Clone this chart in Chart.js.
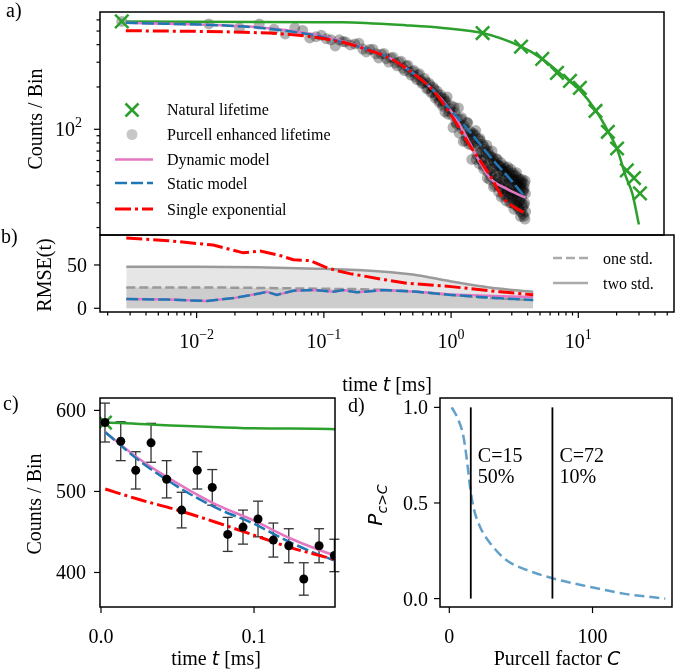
<!DOCTYPE html>
<html>
<head>
<meta charset="UTF-8">
<title>Lifetime fits</title>
<script src="https://cdn.jsdelivr.net/npm/chart.js"></script>
<style>
  body { margin: 0; background: #fff; }
  #fig { position: relative; width: 676px; height: 670px; }
  #fig canvas { position: absolute; left: 0; top: 0; }
</style>
</head>
<body>
<div id="fig">
  <canvas id="pa" width="676" height="670"></canvas>
  <canvas id="pb" width="676" height="670"></canvas>
  <canvas id="pc" width="676" height="670"></canvas>
  <canvas id="pd" width="676" height="670"></canvas>
</div>
<script>
const W = 676, H = 670;
const SERIF = '"Liberation Serif", "Times New Roman", serif';
const SANS = '"DejaVu Sans", sans-serif';
const F20 = '20px ' + SERIF, F16 = '16px ' + SERIF, F14 = '14px ' + SERIF;
const GREEN = '#2ca02c', PINK = '#e377c2', BLUE = '#1f77b4', RED = '#ff0000';
const DOTS = 'rgba(0,0,0,0.3)';
const DOTS_LEGEND = 'rgba(0,0,0,0.22)';

// ---- natural lifetime (markers + fit) ----
const natT = [0.0026, 2.0, 4.06, 6.0, 7.87, 10, 12, 16, 20.1, 23.8, 28.5, 32.5, 36.3];
const natV = [585, 484, 387, 317, 252, 221, 197, 135, 96, 73, 51, 45, 35];
const natFitT = [0.0028, 0.1, 0.15, 0.5, 1, 2, 4, 6, 8, 10, 12, 16, 20, 24, 28, 31.5, 35.6];
const natFitV = [585, 578, 577, 548, 524, 484, 390, 317, 258, 219, 190, 137, 98, 71, 46, 35, 21];

// ---- model curves ----
const dynT = [0.0028, 0.025, 0.05, 0.075, 0.1, 0.125, 0.1525, 0.2, 0.374, 0.605, 0.82, 1.11, 1.25, 1.55, 1.91, 2.29, 3.18, 4.42];
const dynV = [573, 540, 510, 484, 464, 441, 421, 392, 317, 237, 187, 136, 116, 82, 58, 45, 37.4, 32.6];
const statT = [0.0028, 0.025, 0.05, 0.075, 0.1, 0.125, 0.1525, 0.2, 0.374, 0.605, 0.82, 1.11, 1.25, 1.79, 2.4, 3.3, 4.42];
const statV = [573, 538, 506, 480, 460, 436, 415, 390, 317, 237, 187, 136, 122, 84, 61, 44.5, 32.6];
const expT = [0.0028, 0.025, 0.05, 0.075, 0.1, 0.125, 0.1525, 0.2, 0.374, 0.605, 0.82, 1.11, 1.59, 2.29, 2.91, 4.42];
const expV = [503, 490, 477, 462, 446, 430, 416, 388, 315, 236, 185, 128, 76, 47, 32.6, 25];

// ---- Purcell enhanced counts (first bins also shown in panel c) ----
const cT = [0.0026, 0.0129, 0.0227, 0.0327, 0.0429, 0.0527, 0.0629, 0.0727, 0.0828, 0.0928, 0.1026, 0.1126, 0.1227, 0.1325, 0.1425, 0.1525];
const cV = [585, 562, 526, 560, 515, 477, 526, 505, 447, 456, 466, 440, 433, 392, 433, 421];
const cErr = [24, 24, 23, 24, 23, 22, 23, 22, 21, 21, 22, 21, 21, 20, 21, 20];
const midT = [0.16, 0.19, 0.22, 0.25, 0.28, 0.31, 0.34, 0.37, 0.40, 0.43, 0.46, 0.49, 0.52, 0.55, 0.58,
  0.61, 0.64, 0.67, 0.70, 0.73, 0.76, 0.79, 0.82, 0.85, 0.88, 0.91, 0.94, 0.97, 1.00];
const midV = [418, 405, 372, 370, 345, 342, 318, 322, 296, 300, 272, 282, 255, 258, 236,
  243, 222, 214, 218, 196, 205, 184, 193, 172, 176, 160, 168, 150, 155];
const mid2T = [0.175, 0.205, 0.235, 0.265, 0.295, 0.325, 0.355, 0.385, 0.415, 0.445, 0.475, 0.505, 0.535, 0.565,
  0.595, 0.625, 0.655, 0.685, 0.715, 0.745, 0.775, 0.805, 0.835, 0.865, 0.895, 0.925, 0.955, 0.985];
const mid2V = [398, 409, 355, 371, 322, 346, 301, 325, 283, 305, 262, 285, 243, 262,
  226, 248, 212, 230, 194, 213, 182, 199, 167, 187, 156, 176, 146, 165];
const tailT = [1.02, 1.06, 1.10, 1.14, 1.18, 1.22, 1.26, 1.30, 1.34, 1.38, 1.42, 1.46, 1.50, 1.54, 1.58,
  1.62, 1.66, 1.70, 1.74, 1.78, 1.82, 1.86, 1.90, 1.94, 1.98, 2.02, 2.06, 2.10, 2.14, 2.18,
  2.22, 2.26, 2.30, 2.34, 2.38, 2.42, 2.46, 2.50, 2.54, 2.58, 2.62, 2.66, 2.70, 2.74, 2.78,
  2.82, 2.86, 2.90, 2.94, 2.98, 3.02, 3.06, 3.10, 3.14, 3.18, 3.22, 3.26, 3.30, 3.34, 3.38,
  3.42, 3.46, 3.50, 3.54, 3.58, 3.62, 3.66, 3.70, 3.74, 3.78, 3.82, 3.86, 3.90, 3.94, 3.98,
  4.02, 4.06, 4.10, 4.14, 4.18, 4.22, 4.26, 4.30, 4.34, 4.38, 4.42];
const tailV = [158, 128, 140, 126, 144, 112, 119, 94, 118, 100, 106, 83, 112, 86, 91,
  78, 92, 80, 91, 61, 79, 68, 86, 61, 69, 55, 75, 61, 68, 45,
  70, 52, 60, 46, 70, 53, 60, 40, 55, 44, 61, 45, 50, 39, 54,
  33, 51, 43, 55, 37, 45, 34, 50, 38, 54, 41, 44, 30, 48, 35,
  40, 32, 49, 36, 44, 29, 40, 32, 49, 35, 40, 28, 43, 31, 37,
  24, 41, 33, 42, 28, 37, 24, 38, 30, 43, 26];
const tail2T = [1.00, 1.04, 1.08, 1.12, 1.16, 1.20, 1.24, 1.28, 1.32, 1.36, 1.40, 1.44, 1.48, 1.52, 1.56,
  1.60, 1.64, 1.68, 1.72, 1.76, 1.80, 1.84, 1.88, 1.92, 1.96, 2.00, 2.04, 2.08, 2.12, 2.16,
  2.20, 2.24, 2.28, 2.32, 2.36, 2.40, 2.44, 2.48, 2.52, 2.56, 2.60, 2.64, 2.68, 2.72, 2.76,
  2.80, 2.84, 2.88, 2.92, 2.96, 3.00, 3.04, 3.08, 3.12, 3.16, 3.20, 3.24, 3.28, 3.32, 3.36,
  3.40, 3.44, 3.48, 3.52, 3.56, 3.60, 3.64, 3.68, 3.72, 3.76, 3.80, 3.84, 3.88, 3.92, 3.96,
  4.00, 4.04, 4.08, 4.12, 4.16, 4.20, 4.24, 4.28, 4.32, 4.36, 4.40];
const tail2V = [133, 170, 134, 147, 103, 132, 109, 142, 108, 121, 82, 101, 88, 111, 78,
  96, 61, 94, 76, 98, 66, 85, 57, 83, 60, 78, 52, 72, 55, 77,
  50, 66, 44, 64, 48, 63, 39, 58, 47, 62, 41, 56, 36, 55, 42,
  58, 38, 52, 34, 50, 40, 53, 31, 47, 36, 51, 33, 46, 37, 52,
  30, 44, 34, 47, 27, 43, 35, 47, 29, 41, 33, 45, 27, 39, 31,
  44, 26, 38, 30, 44, 25, 36, 29, 41, 23, 35];

// ---- RMSE(t) ----
const rmseExpT = [0.0028, 0.006, 0.0135, 0.0233, 0.0316, 0.045, 0.0576, 0.078, 0.105, 0.13, 0.16, 0.193, 0.3, 0.449, 1.0, 2.43, 4.42];
const rmseExpV = [81, 78, 73, 64, 66, 61, 56, 55, 47, 43, 40, 38, 33, 29, 25, 19, 15.5];
const rmseT = [0.0028, 0.006, 0.012, 0.02, 0.0316, 0.0356, 0.0427, 0.0576, 0.0826, 0.119, 0.142, 0.181, 0.294, 0.537, 1.0, 2.43, 4.42];
const rmseStatV = [10.7, 10, 8.4, 12, 17.3, 19, 15.5, 20.3, 21, 19.2, 21, 18.5, 21, 19, 15.4, 11.5, 9.6];
const rmseDynV = [10.7, 10, 8.4, 12, 17.3, 19, 15.5, 20.3, 21, 19.2, 21, 18.5, 21, 19, 16, 14, 13];
const stdT = [0.0028, 0.01, 0.03, 0.1, 0.2, 0.5, 1.0, 2.0, 4.42];
const twoStdV = [48, 48, 47.5, 45.5, 44, 39, 31, 24, 19];
const oneStdV = [24, 24, 23.5, 22.5, 22, 19.5, 15.5, 12, 9.5];

// ---- panel d ----
const purC = [1.7, 6.3, 9.8, 12.2, 14.5, 16.8, 21.5, 28.5, 40, 54, 72.7, 98.4, 121.7, 150.8];
const purP = [1.0, 0.935, 0.85, 0.73, 0.585, 0.48, 0.375, 0.29, 0.20, 0.15, 0.105, 0.061, 0.026, 0.0];
const markC = [15, 72];
const markText = [['C=15', '50%'], ['C=72', '10%']];

// ---- ticks ----
const logMinorX = [0.002, 0.003, 0.004, 0.005, 0.006, 0.007, 0.008, 0.009, 0.02, 0.03, 0.04, 0.05, 0.06, 0.07, 0.08, 0.09,
  0.2, 0.3, 0.4, 0.5, 0.6, 0.7, 0.8, 0.9, 2, 3, 4, 5, 6, 7, 8, 9, 20, 30, 40, 50];
const logMajorX = [0.01, 0.1, 1, 10];
const logMajorXExp = ['\u22122', '\u22121', '0', '1'];
const logMinorYa = [20, 30, 40, 50, 60, 70, 80, 90, 200, 300, 400, 500, 600];

function xy(xs, ys) { return xs.map((x, i) => ({ x: x, y: ys[i] })); }

function pad(l, t, r, b) { return { left: l, top: t, right: W - r, bottom: H - b }; }

function baseOptions(padding, xs, ys) {
  return {
    responsive: false, animation: false, devicePixelRatio: 1, events: [],
    layout: { padding: padding },
    plugins: { legend: { display: false }, tooltip: { enabled: false } },
    scales: { x: Object.assign({ display: false }, xs), y: Object.assign({ display: false }, ys) }
  };
}

function lineDs(xs, ys, color, width, dash, order, smooth) {
  return {
    type: 'line', data: xy(xs, ys), borderColor: color, borderWidth: width, borderDash: dash || [],
    pointRadius: 0, fill: false, order: order, tension: 0, borderCapStyle: 'butt',
    cubicInterpolationMode: smooth ? 'monotone' : 'default'
  };
}

function dotDs(xs, ys, style, order) {
  return Object.assign({ type: 'line', data: xy(xs, ys), showLine: false, order: order, pointBorderWidth: 0 }, style);
}

function txt(ctx, parts, x, y, align, rot) {
  ctx.save();
  ctx.translate(x, y);
  if (rot) ctx.rotate(rot);
  ctx.textAlign = 'left'; ctx.textBaseline = 'alphabetic'; ctx.fillStyle = '#000';
  let w = 0;
  parts.forEach(p => { ctx.font = p[1]; w += ctx.measureText(p[0]).width; });
  let cx = align === 'center' ? -w / 2 : (align === 'right' ? -w : 0);
  parts.forEach(p => { ctx.font = p[1]; ctx.fillText(p[0], cx, p[2] || 0); cx += ctx.measureText(p[0]).width; });
  ctx.restore();
}

function seg(ctx, x1, y1, x2, y2) { ctx.beginPath(); ctx.moveTo(x1, y1); ctx.lineTo(x2, y2); ctx.stroke(); }

function makeFrame(id, spec) {
  return {
    id: id,
    beforeDatasetsDraw(chart) { if (spec.under) spec.under(chart); },
    afterDraw(chart) {
      const ctx = chart.ctx, a = chart.chartArea, sx = chart.scales.x, sy = chart.scales.y;
      ctx.save();
      ctx.strokeStyle = '#000'; ctx.lineWidth = 1.2; ctx.setLineDash([]);
      (spec.xMajor || []).forEach(v => { const p = sx.getPixelForValue(v); seg(ctx, p, a.bottom, p, a.bottom + 6); });
      (spec.xMinor || []).forEach(v => { const p = sx.getPixelForValue(v); seg(ctx, p, a.bottom, p, a.bottom + 3.5); });
      (spec.yMajor || []).forEach(v => { const p = sy.getPixelForValue(v); seg(ctx, a.left - 6, p, a.left, p); });
      (spec.yMinor || []).forEach(v => { const p = sy.getPixelForValue(v); seg(ctx, a.left - 3.5, p, a.left, p); });
      ctx.lineWidth = 1.5;
      ctx.strokeRect(a.left, a.top, a.right - a.left, a.bottom - a.top);
      (spec.xLabels || []).forEach(l => txt(ctx, l[1], sx.getPixelForValue(l[0]), spec.xLabelY, 'center'));
      (spec.yLabels || []).forEach(l => txt(ctx, l[1], spec.yLabelX, sy.getPixelForValue(l[0]) + 7, 'right'));
      if (spec.over) spec.over(chart, ctx);
      ctx.restore();
    }
  };
}

function legendLine(ctx, x1, x2, y, color, width, dash) {
  ctx.save(); ctx.strokeStyle = color; ctx.lineWidth = width; ctx.setLineDash(dash); ctx.lineCap = 'butt';
  seg(ctx, x1, y, x2, y); ctx.restore();
}

function cross(ctx, x, y, h) {
  ctx.save(); ctx.strokeStyle = GREEN; ctx.lineWidth = 2.5; ctx.setLineDash([]);
  seg(ctx, x - h, y - h, x + h, y + h); seg(ctx, x - h, y + h, x + h, y - h); ctx.restore();
}

const greenX = { pointStyle: 'crossRot', pointRadius: 9.5, pointBorderColor: GREEN, pointBorderWidth: 2.5, pointBackgroundColor: GREEN };
const grayDot = { pointStyle: 'circle', pointRadius: 5.5, pointBackgroundColor: DOTS };
const blackDot = { pointStyle: 'circle', pointRadius: 4.5, pointBackgroundColor: '#000' };
const DASH = [12, 4], DASHDOT = [16, 4, 3, 4];

// ---------- panel a ----------
new Chart(document.getElementById('pa'), {
  type: 'line',
  data: { datasets: [
    dotDs(cT.concat(midT, mid2T, tailT, tail2T), cV.concat(midV, mid2V, tailV, tail2V), grayDot, 10),
    lineDs(natFitT, natFitV, GREEN, 2.5, [], 6, true),
    dotDs(natT, natV, greenX, 5),
    lineDs(dynT, dynV, PINK, 2.5, [], 4, true),
    lineDs(statT, statV, BLUE, 2.5, DASH, 3, true),
    lineDs(expT, expV, RED, 3, DASHDOT, 2, true)
  ] },
  options: baseOptions(pad(100, 5, 674, 235),
    { type: 'logarithmic', min: 0.00174, max: 56.5 },
    { type: 'logarithmic', min: 17.7, max: 683 }),
  plugins: [makeFrame('fa', {
    yMajor: [100], yMinor: logMinorYa,
    yLabelX: 82, yLabels: [[100, [['10', F20], ['2', F14, -9]]]],
    over(chart, ctx) {
      txt(ctx, [['Counts / Bin', F20]], 42, 119, 'center', -Math.PI / 2);
      txt(ctx, [['a)', F20]], 6, 17, 'left');
      cross(ctx, 132, 110, 6.5);
      ctx.fillStyle = DOTS_LEGEND; ctx.beginPath(); ctx.arc(132, 134.5, 5.5, 0, Math.PI * 2); ctx.fill();
      legendLine(ctx, 115, 153, 159.5, PINK, 2.5, []);
      legendLine(ctx, 115, 153, 183, BLUE, 2.5, DASH);
      legendLine(ctx, 115, 153, 209, RED, 3, DASHDOT);
      const names = ['Natural lifetime', 'Purcell enhanced lifetime', 'Dynamic model', 'Static model', 'Single exponential'];
      const ys = [109, 134, 159, 183, 209];
      names.forEach((n, i) => txt(ctx, [[n, F16]], 167, ys[i] + 5.5, 'left'));
    }
  })]
});

// ---------- panel b ----------
new Chart(document.getElementById('pb'), {
  type: 'line',
  data: { datasets: [
    Object.assign(lineDs(stdT, twoStdV, '#9a9a9a', 2.5, [], 20, true), { fill: 'origin', backgroundColor: '#e6e6e6' }),
    Object.assign(lineDs(stdT, oneStdV, '#999999', 2.5, [9, 4], 19, true), { fill: 'origin', backgroundColor: '#cdcdcd' }),
    lineDs(rmseT, rmseDynV, PINK, 2.5, [], 4, false),
    lineDs(rmseT, rmseStatV, BLUE, 2.5, DASH, 3, false),
    lineDs(rmseExpT, rmseExpV, RED, 3, DASHDOT, 2, false)
  ] },
  options: baseOptions(pad(100, 235, 674, 312),
    { type: 'logarithmic', min: 0.00174, max: 56.5 },
    { type: 'linear', min: -4.3, max: 84.6 }),
  plugins: [makeFrame('fb', {
    xMajor: logMajorX, xMinor: logMinorX,
    xLabelY: 348,
    xLabels: logMajorX.map((v, i) => [v, [['10', F20], [logMajorXExp[i], F14, -9]]]),
    yMajor: [0, 50], yLabelX: 87,
    yLabels: [[0, [['0', F20]]], [50, [['50', F20]]]],
    over(chart, ctx) {
      txt(ctx, [['RMSE(t)', F20]], 51, 275, 'center', -Math.PI / 2);
      txt(ctx, [['b)', F20]], 1, 243, 'left');
      txt(ctx, [['time ', F20], ['t', 'italic 19px ' + SANS], [' [ms]', F20]], 387, 391, 'center');
      legendLine(ctx, 553, 588, 258, '#aaaaaa', 2.5, [9, 4]);
      legendLine(ctx, 553, 588, 283, '#aaaaaa', 2.5, []);
      txt(ctx, [['one std.', F16]], 603, 263.5, 'left');
      txt(ctx, [['two std.', F16]], 603, 288.5, 'left');
    }
  })]
});

// ---------- panel c ----------
new Chart(document.getElementById('pc'), {
  type: 'line',
  data: { datasets: [
    lineDs(natFitT, natFitV, GREEN, 2.5, [], 8, true),
    dotDs(natT, natV, greenX, 7),
    lineDs(dynT, dynV, PINK, 2.5, [], 5, true),
    lineDs(statT, statV, BLUE, 2.5, DASH, 4, true),
    lineDs(expT, expV, RED, 3, DASHDOT, 3, true),
    dotDs(cT, cV, blackDot, 1)
  ] },
  options: baseOptions(pad(100, 398, 335, 607),
    { type: 'linear', min: -0.00065, max: 0.1529 },
    { type: 'linear', min: 357.4, max: 615.3 }),
  plugins: [makeFrame('fc', {
    xMajor: [0, 0.1], xLabelY: 643,
    xLabels: [[0, [['0.0', F20]]], [0.1, [['0.1', F20]]]],
    yMajor: [400, 500, 600], yLabelX: 86,
    yLabels: [[400, [['400', F20]]], [500, [['500', F20]]], [600, [['600', F20]]]],
    under(chart) {
      const ctx = chart.ctx, sx = chart.scales.x, sy = chart.scales.y;
      ctx.save(); ctx.strokeStyle = '#333'; ctx.lineWidth = 1.3;
      cT.forEach((t, i) => {
        const px = sx.getPixelForValue(t), lo = sy.getPixelForValue(cV[i] - cErr[i]), hi = sy.getPixelForValue(cV[i] + cErr[i]);
        seg(ctx, px, lo, px, hi); seg(ctx, px - 5, lo, px + 5, lo); seg(ctx, px - 5, hi, px + 5, hi);
      });
      ctx.restore();
    },
    over(chart, ctx) {
      txt(ctx, [['Counts / Bin', F20]], 41, 504, 'center', -Math.PI / 2);
      txt(ctx, [['c)', F20]], 3, 410, 'left');
      txt(ctx, [['time ', F20], ['t', 'italic 19px ' + SANS], [' [ms]', F20]], 216, 665, 'center');
    }
  })]
});

// ---------- panel d ----------
new Chart(document.getElementById('pd'), {
  type: 'line',
  data: { datasets: [
    lineDs(purC, purP, '#62a0ca', 2.5, [10, 5], 3, true),
    lineDs([markC[0], markC[0]], [0, 1], '#000', 1.8, [], 1, false),
    lineDs([markC[1], markC[1]], [0, 1], '#000', 1.8, [], 1, false)
  ] },
  options: baseOptions(pad(440, 398, 672, 607),
    { type: 'linear', min: -6.5, max: 155.5 },
    { type: 'linear', min: -0.044, max: 1.049 }),
  plugins: [makeFrame('fd', {
    xMajor: [0, 100], xLabelY: 643,
    xLabels: [[0, [['0', F20]]], [100, [['100', F20]]]],
    yMajor: [0, 0.5, 1], yLabelX: 428,
    yLabels: [[0, [['0.0', F20]]], [0.5, [['0.5', F20]]], [1, [['1.0', F20]]]],
    over(chart, ctx) {
      const sx = chart.scales.x;
      markC.forEach((c, i) => {
        const px = sx.getPixelForValue(c) + 7;
        txt(ctx, [[markText[i][0], F20]], px, 462, 'left');
        txt(ctx, [[markText[i][1], F20]], px, 483, 'left');
      });
      txt(ctx, [['P', 'italic 20px ' + SANS], ['c>C', 'italic 14px ' + SANS, 5]], 382, 505, 'center', -Math.PI / 2);
      txt(ctx, [['d)', F20]], 348, 412, 'left');
      txt(ctx, [['Purcell factor ', F20], ['C', 'italic 19px ' + SANS]], 557, 665, 'center');
    }
  })]
});
</script>
</body>
</html>
